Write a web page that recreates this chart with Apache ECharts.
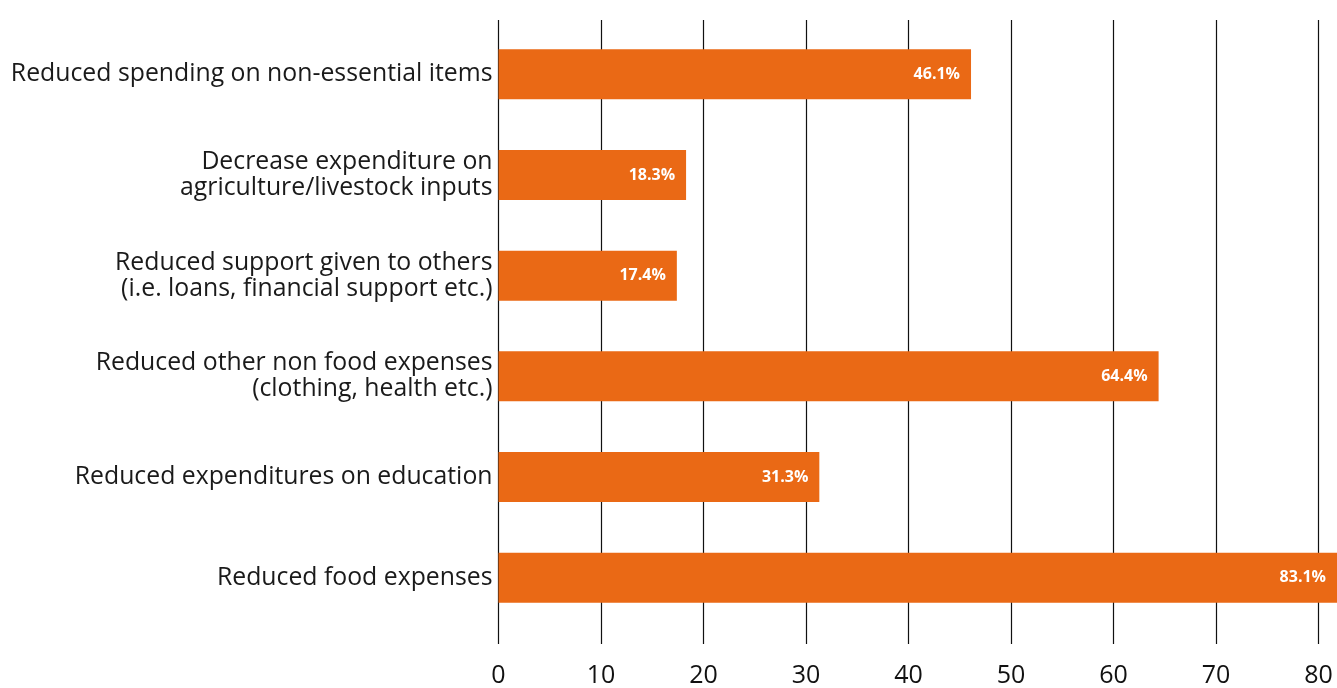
<!DOCTYPE html>
<html>
<head>
<meta charset="utf-8">
<script src="https://cdn.jsdelivr.net/npm/echarts@6/dist/echarts.min.js"></script>
<style>
  html, body { margin: 0; padding: 0; background: #fff; }
  #chart { width: 1337px; height: 688px; }
</style>
</head>
<body>
<div id="chart"></div>
<script>
// Coping strategies: share of households (%)
const categories = [
  'Reduced spending on non-essential items',
  'Decrease expenditure on\nagriculture/livestock inputs',
  'Reduced support given to others\n(i.e. loans, financial support etc.)',
  'Reduced other non food expenses\n(clothing, health etc.)',
  'Reduced expenditures on education',
  'Reduced food expenses'
];
const shares = [46.1, 18.3, 17.4, 64.4, 31.3, 83.1];
const axisMin = 0;
const axisMax = 80;
const axisStep = 10;

const W = 1337;
const LEFT = 498.5;
const RIGHT_AXIS = 18.5;
// The bar grid runs to the canvas edge; extend its scale by the same px/unit.
const barAxisMax = axisMax * (W - LEFT) / (W - LEFT - RIGHT_AXIS);

const FONT = '"Open Sans", "Noto Sans", sans-serif';

const chart = echarts.init(document.getElementById('chart'), null, { renderer: 'canvas' });
chart.setOption({
  animation: false,
  backgroundColor: '#ffffff',
  grid: [
    { left: LEFT, right: 0, top: 24, bottom: 60, containLabel: false },
    { left: LEFT, right: RIGHT_AXIS, top: 20, bottom: 43, containLabel: false }
  ],
  xAxis: [
    {
      gridIndex: 0, type: 'value', min: axisMin, max: barAxisMax,
      show: false
    },
    {
      gridIndex: 1, type: 'value', min: axisMin, max: axisMax, interval: axisStep,
      axisLine: { show: false },
      axisTick: { show: false },
      splitLine: { show: true, lineStyle: { color: '#111111', width: 1.2 } },
      axisLabel: {
        margin: 19, fontSize: 25, color: '#111111', fontFamily: FONT
      }
    }
  ],
  yAxis: [
    {
      gridIndex: 0, type: 'category', data: categories, inverse: true,
      axisLine: { show: false },
      axisTick: { show: false },
      splitLine: { show: false },
      axisLabel: {
        margin: 6, fontSize: 24.8, lineHeight: 26, color: '#1a1a1a',
        fontFamily: FONT, align: 'right'
      }
    },
    {
      gridIndex: 1, type: 'category', data: categories, show: false
    }
  ],
  series: [
    {
      type: 'bar',
      xAxisIndex: 0, yAxisIndex: 0,
      data: shares,
      barWidth: 50,
      clip: true,
      itemStyle: { color: '#EA6915' },
      label: {
        show: true,
        position: 'insideRight',
        distance: 11,
        color: '#ffffff',
        fontWeight: 'bold',
        fontSize: 16,
        fontFamily: FONT,
        formatter: p => p.value.toFixed(1) + '%'
      }
    }
  ]
});
</script>
</body>
</html>
